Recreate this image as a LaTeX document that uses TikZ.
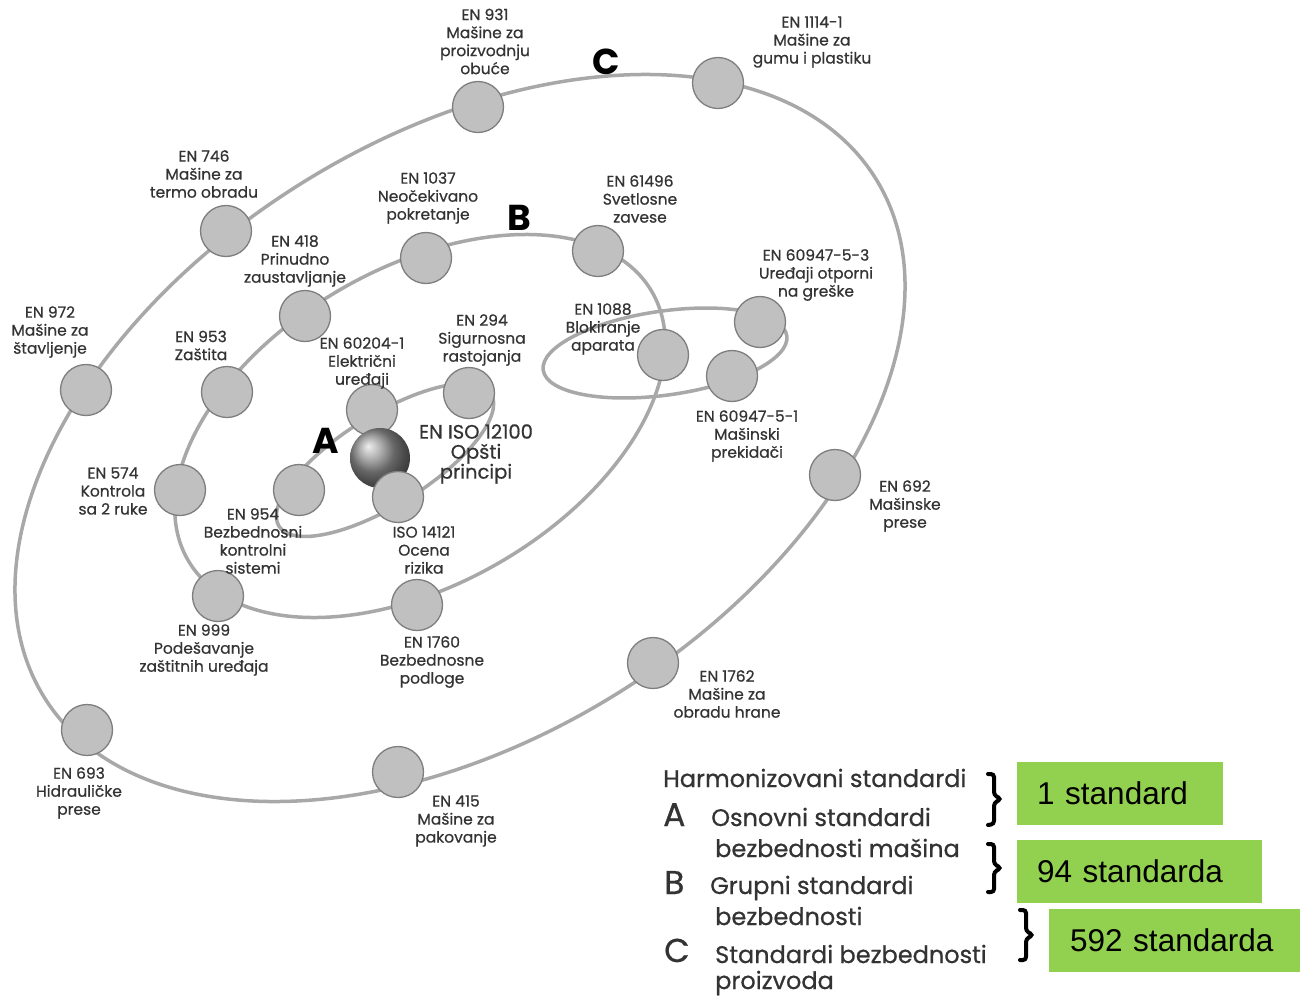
\documentclass[tikz,border=0pt]{standalone}
\usepackage{fontspec}
\setmainfont{Poppins}
\newfontfamily\lblfont{Poppins}[FakeBold=0.6]
\newfontfamily\boxfont{Liberation Sans}
\definecolor{orbit}{HTML}{A8A8A8}
\definecolor{discfill}{HTML}{C0C0C0}
\definecolor{discedge}{HTML}{7E7E7E}
\definecolor{labeltext}{HTML}{333333}
\definecolor{boxgreen}{HTML}{92D050}
\begin{document}
\begin{tikzpicture}[x=1pt,y=-1pt,
  orbitline/.style={draw=orbit, line width=3.5pt},
  disc/.style={circle, fill=discfill, draw=discedge, line width=1.3pt, minimum size=51pt, inner sep=0pt},
  lbl/.style={align=center, text=labeltext, inner sep=0pt, font=\lblfont\fontsize{15.5}{18}\selectfont},
  biglbl/.style={align=center, text=labeltext, inner sep=0pt, font=\lblfont\fontsize{19.5}{20}\selectfont},
  orbitletter/.style={inner sep=0pt, text=black, font=\bfseries\fontsize{36}{36}\selectfont},
  legtext/.style={anchor=base west, inner sep=0pt, text=labeltext, font=\lblfont\fontsize{24}{24}\selectfont},
  legletter/.style={anchor=base west, inner sep=0pt, text=labeltext, font=\lblfont\fontsize{33}{33}\selectfont},
  gbox/.style={anchor=north west, fill=boxgreen, inner xsep=0pt, inner ysep=0pt, align=left, text=black, font=\boxfont\fontsize{31.5}{31.5}\selectfont},
  bracket/.style={draw=black, line width=4pt, rounded corners=3pt, line cap=round}
]
\useasboundingbox (0,0) rectangle (1300,996);
\fill[white] (0,0) rectangle (1300,996);

% orbits
\draw[orbitline, shift={(460,438)}, rotate=32] (0,0) ellipse [x radius=490pt, y radius=300pt];
\draw[orbitline, shift={(420,426)}, rotate=30] (0,0) ellipse [x radius=268pt, y radius=158pt];
\draw[orbitline, shift={(385,460)}, rotate=32] (0,0) ellipse [x radius=125pt, y radius=45pt];
\draw[orbitline, shift={(665,353)}, rotate=8] (0,0) ellipse [x radius=123pt, y radius=42pt];

% C orbit discs
\node[disc] (c931) at (478,107) {};
\node[disc] (c1114) at (718,83) {};
\node[disc] (c746) at (226,231) {};
\node[disc] (c972) at (86,390) {};
\node[disc] (c692) at (835,475) {};
\node[disc] (c1762) at (653,663) {};
\node[disc] (c415) at (398,772) {};
\node[disc] (c693) at (87,730) {};
% B orbit discs
\node[disc] (c1037) at (426,258) {};
\node[disc] (c61496) at (598,251) {};
\node[disc] (c418) at (305,316) {};
\node[disc] (c953) at (227,392) {};
\node[disc] (c574) at (180,490) {};
\node[disc] (c999) at (218,596) {};
\node[disc] (c1760) at (417,605) {};
\node[disc] (c1088) at (663,355) {};
% small orbit discs
\node[disc] (c609473) at (760,322) {};
\node[disc] (c609471) at (732,376) {};
% A orbit discs
\node[disc] (c294) at (469,393) {};
\node[disc] (c954) at (299,490) {};
\node[disc] (c60204) at (372,410) {};
\node[circle, minimum size=60pt, inner sep=0pt, shading=ball, ball color=gray!85] (sphere) at (380,458) {};
\node[disc] (c14121) at (398,497) {};

% orbit letters
\node[orbitletter] (lC) at (606,62) {C};
\node[orbitletter] (lB) at (519,218) {B};
\node[orbitletter] (lA) at (326,441) {A};

% labels
\node[lbl] (t931) at (485,41.5) {EN 931\\Mašine za\\proizvodnju\\obuće};
\node[lbl] (t1114) at (812,42) {EN 1114-1\\Mašine za\\gumu i plastiku};
\node[lbl] (t746) at (204,174) {EN 746\\Mašine za\\termo obradu};
\node[lbl] (t972) at (50,332) {EN 972\\Mašine za\\štavljenje};
\node[lbl] (t1037) at (428,198) {EN 1037\\Neočekivano\\pokretanje};
\node[lbl] (t61496) at (640,199) {EN 61496\\Svetlosne\\zavese};
\node[lbl] (t418) at (295,261) {EN 418\\Prinudno\\zaustavljanje};
\node[lbl] (t953) at (201,345.5) {EN 953\\Zaštita};
\node[lbl] (t60204) at (362,363) {EN 60204-1\\Električni\\uređaji};
\node[lbl] (t294) at (482,340) {EN 294\\Sigurnosna\\rastojanja};
\node[lbl] (t1088) at (603,329) {EN 1088\\Blokiranje\\aparata};
\node[lbl] (t609473) at (816,275) {EN 60947-5-3\\Uređaji otporni\\na greške};
\node[biglbl] (t12100) at (476,454) {EN ISO 12100\\Opšti\\principi};
\node[lbl] (t574) at (113,491) {EN 574\\Kontrola\\sa 2 ruke};
\node[lbl] (t954) at (253,541) {EN 954\\Bezbednosni\\kontrolni\\sistemi};
\node[lbl] (t14121) at (424,550) {ISO 14121\\Ocena\\rizika};
\node[lbl] (t609471) at (747,436) {EN 60947-5-1\\Mašinski\\prekidači};
\node[lbl] (t692) at (905,506) {EN 692\\Mašinske\\prese};
\node[lbl] (t999) at (204,650) {EN 999\\Podešavanje\\zaštitnih uređaja};
\node[lbl] (t1760) at (432,662) {EN 1760\\Bezbednosne\\podloge};
\node[lbl] (t1762) at (727,694) {EN 1762\\Mašine za\\obradu hrane};
\node[lbl] (t693) at (79,793) {EN 693\\Hidrauličke\\prese};
\node[lbl] (t415) at (456,821) {EN 415\\Mašine za\\pakovanje};

% legend
\node[legtext] (harm) at (663,787) {Harmonizovani standardi};
\node[legletter] (legA) at (663,826) {A};
\node[legtext] (osn) at (711,826) {Osnovni standardi};
\node[legtext] (osn2) at (715,857) {bezbednosti mašina};
\node[legletter] (legB) at (664,894) {B};
\node[legtext] (grp) at (710,894) {Grupni standardi};
\node[legtext] (grp2) at (715,925) {bezbednosti};
\node[legletter] (legC) at (664,962) {C};
\node[legtext] (std) at (715,963) {Standardi bezbednosti};
\node[legtext] (std2) at (715,989) {proizvoda};

% braces
\coordinate (b1t) at (988,774); \coordinate (b1m) at (1001,799); \coordinate (b1b) at (988,825);
\coordinate (b2t) at (988,844); \coordinate (b2m) at (1001,868); \coordinate (b2b) at (988,892);
\coordinate (b3t) at (1020,910); \coordinate (b3m) at (1033,935); \coordinate (b3b) at (1020,960);
\draw[bracket] (b1t) -- ++(6,0) -- ++(0,21) -- (b1m) -- ++(-7,4) -- ++(0,21) -- (b1b);
\draw[bracket] (b2t) -- ++(6,0) -- ++(0,20) -- (b2m) -- ++(-7,4) -- ++(0,20) -- (b2b);
\draw[bracket] (b3t) -- ++(6,0) -- ++(0,21) -- (b3m) -- ++(-7,4) -- ++(0,21) -- (b3b);

% green boxes
\node[gbox, minimum width=206pt, minimum height=63pt, text width=166pt] (g1) at (1017,762) {1 standard};
\node[gbox, minimum width=245pt, minimum height=63pt, text width=205pt] (g2) at (1017,840) {94 standarda};
\node[gbox, minimum width=251pt, minimum height=63pt, text width=209pt] (g3) at (1049,909) {592 standarda};
\end{tikzpicture}
\end{document}
